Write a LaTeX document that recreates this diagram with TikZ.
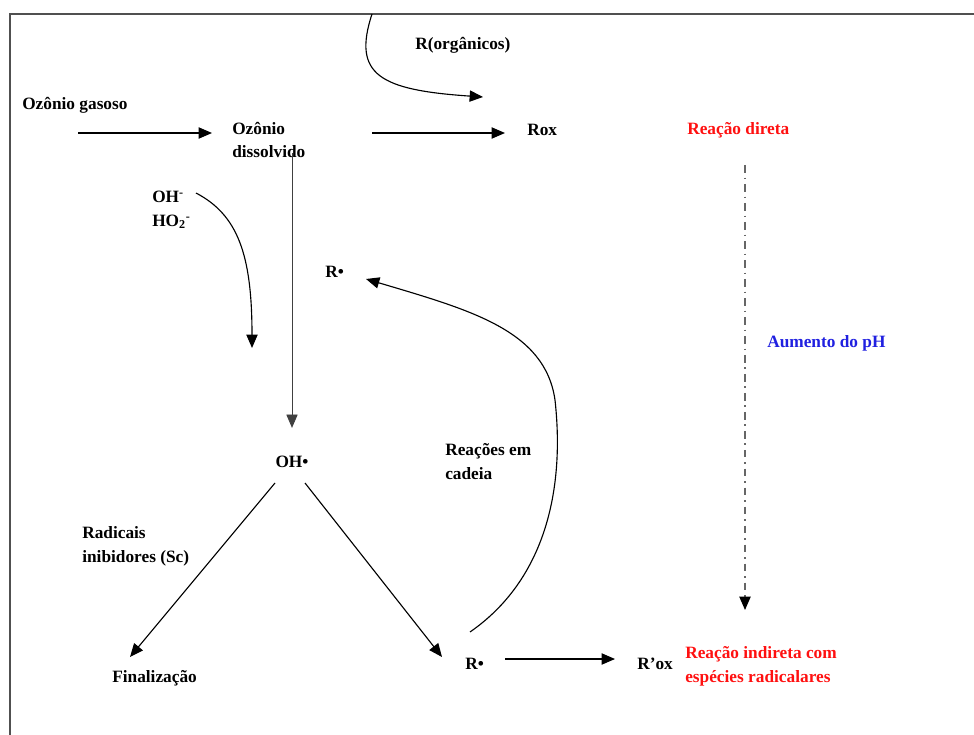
\documentclass[tikz,border=0pt]{standalone}
\usepackage{fontspec}
\setmainfont{Liberation Serif}
\usetikzlibrary{arrows.meta,positioning}
\definecolor{frame}{HTML}{505050}
\definecolor{direta}{HTML}{FF1010}
\definecolor{ph}{HTML}{2020E0}

\begin{document}
\begin{tikzpicture}[x=0.025cm,y=-0.025cm,
  lbl/.style={font=\bfseries\fontsize{12.3}{17}\selectfont,align=left,anchor=west,inner sep=0pt},
  arr/.style={-{Triangle[length=9.5pt,width=8pt]},line width=0.8pt}]
  \useasboundingbox (0,0) rectangle (974,735);
  \draw[frame,line width=1.2pt] (10,745) -- (10,14) -- (985,14);

  % Labels
  \node[lbl] (gas) at (22,105) {Ozônio gasoso};
  \node[lbl] (dis) at (232,140) {Ozônio\\dissolvido};
  \node[lbl] (rox) at (527,130) {Rox};
  \node[lbl] (org) at (415,45) {R(orgânicos)};
  \node[lbl,direta] (dir) at (687,130) {Reação direta};
  \node[lbl] (ohm) at (152,210) {OH\textsuperscript{-}\\HO\textsubscript{2}\textsuperscript{-}};
  \node[lbl] (rup) at (325,272) {R•};
  \node[lbl,ph] (aum) at (767,343) {Aumento do pH};
  \node[lbl] (cad) at (445,462) {Reações em\\cadeia};
  \node[lbl,anchor=center] (oh) at (292,462) {OH•};
  \node[lbl] (rad) at (82,546) {Radicais\\inibidores (Sc)};
  \node[lbl] (fin) at (112,678) {Finalização};
  \node[lbl] (rlo) at (465,664) {R•};
  \node[lbl] (rox2) at (637,664) {R’ox};
  \node[lbl,direta] (ind) at (685,666) {Reação indireta com\\espécies radicalares};

  % Ozone paths
  \draw[arr] ([shift={(56,28)}]gas.west) -- ([shift={(-20,-7)}]dis.west);
  \draw[arr] ([shift={(140,-7)}]dis.west) -- ([shift={(-22,3)}]rox.west);
  \coordinate (top) at (372,14);
  \draw[arr] (top) .. controls (352,75) and (380,90) .. ([shift={(68,52)}]org.west);
  \draw[arr,line width=0.6pt,black!75] (oh |- dis.south) ++(0,-5) -- ([shift={(0,-28)}]oh.north);
  \coordinate (ohend) at (252,348);
  \draw[arr] ([shift={(44,-17)}]ohm.west) .. controls (238,215) and (252,255) .. (ohend);

  % Radicals
  \draw[arr] ([shift={(-17,21)}]oh.center) -- ([shift={(18,-21)}]fin.west);
  \draw[arr] ([shift={(13,21)}]oh.center) -- ([shift={(-23,-7)}]rlo.west);
  \draw[arr] ([shift={(40,-5)}]rlo.west) -- ([shift={(-22,-5)}]rox2.west);
  \draw[arr] ([shift={(5,-32)}]rlo.west) .. controls (545,580) and (565,490) .. (555,400)
    .. controls (545,330) and (470,310) .. ([shift={(41,7)}]rup.west);

  % pH axis
  \draw[-{Triangle[length=9.5pt,width=8pt,black]},black!60,line width=1pt,
    dash pattern=on 5.5pt off 3.5pt on 1pt off 3.5pt]
    ([shift={(58,35)}]dir.west) -- ([shift={(60,-56)}]ind.west);
\end{tikzpicture}
\end{document}
